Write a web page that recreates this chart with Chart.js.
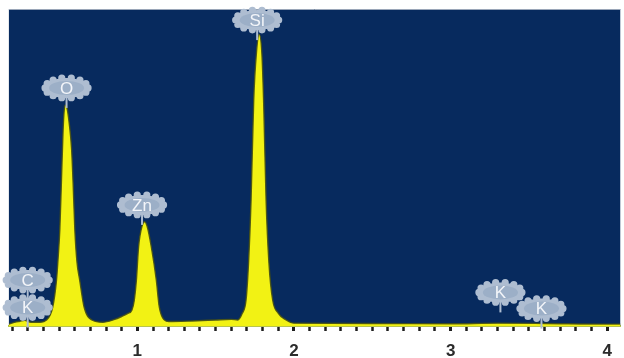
<!DOCTYPE html>
<html>
<head>
<meta charset="utf-8">
<script src="https://cdn.jsdelivr.net/npm/chart.js@4"></script>
<style>
  html, body { margin: 0; padding: 0; background: #fff; }
  #wrap { width: 624px; height: 358px; }
</style>
</head>
<body>
<div id="wrap"><canvas id="spectrum" width="624" height="358"></canvas></div>
<script>
// energy (keV) and counts (% of full scale)
const energies = [
  0.18, 0.22, 0.25, 0.28, 0.32, 0.38, 0.42, 0.46, 0.484, 0.495, 0.505, 0.515, 0.526, 0.533, 0.54,
  0.55, 0.565, 0.58, 0.59, 0.601, 0.615, 0.632, 0.66, 0.71, 0.78, 0.85, 0.90, 0.94, 0.965, 0.98,
  0.994, 1.008, 1.03, 1.047, 1.065, 1.089, 1.121, 1.14, 1.17, 1.2, 1.35, 1.5, 1.6, 1.64, 1.67,
  1.694, 1.71, 1.726, 1.743, 1.76, 1.778, 1.795, 1.806, 1.822, 1.84, 1.864, 1.90, 1.95, 2.0, 2.5,
  3.0, 3.3, 3.6, 4.0, 4.09
];
const counts = [
  0.6, 1.2, 1.5, 1.8, 1.2, 1.2, 1.9, 6, 14.5, 22, 30.3, 45, 61.8, 68, 69.7,
  69, 64, 56, 45, 30.3, 20, 14.5, 6, 1.9, 1.2, 2, 3, 4, 5, 8,
  14.5, 25, 31.5, 32.9, 31, 25, 14.5, 6, 2, 1.4, 1.6, 1.9, 2.1, 1.9, 4,
  8.2, 20, 39.7, 71.3, 86, 92, 86, 71.3, 39.7, 20, 8.2, 4, 1.9, 0.9, 0.8,
  0.7, 0.9, 0.8, 0.6, 0.6
];
const tickValues = [1, 2, 3, 4];

// element markers: label, energy of the badge centre, height of the badge centre
const markerLabels = ['C', 'K', 'O', 'Zn', 'Si', 'K', 'K'];
const markerEnergy = [0.30, 0.30, 0.548, 1.03, 1.765, 3.318, 3.58];
const markerLevel  = [14.5, 5.8, 75.1, 38.2, 96.5, 10.6, 5.5];

const plotBackground = {
  id: 'plotBackground',
  beforeDatasetsDraw(chart) {
    const { ctx, chartArea: a } = chart;
    ctx.save();
    ctx.fillStyle = '#072a5e';
    ctx.fillRect(a.left, a.top, a.right - a.left, a.bottom - a.top);
    ctx.strokeStyle = '#9aa6b8';
    ctx.lineWidth = 1;
    ctx.beginPath();
    ctx.moveTo(a.left, a.top + 0.5);
    ctx.lineTo(a.right, a.top + 0.5);
    ctx.stroke();
    ctx.restore();
  }
};

function drawBadge(ctx, cx, cy, text) {
  const rx = 21.5, ry = 10, n = 14, br = 3.6;
  ctx.beginPath();
  ctx.ellipse(cx, cy, rx, ry, 0, 0, Math.PI * 2);
  for (let i = 0; i < n; i++) {
    const a = i / n * Math.PI * 2;
    const px = cx + rx * Math.cos(a);
    const py = cy + ry * Math.sin(a);
    ctx.moveTo(px + br, py);
    ctx.arc(px, py, br, 0, Math.PI * 2);
  }
  ctx.fillStyle = '#aebdd1';
  ctx.fill();
  ctx.beginPath();
  ctx.ellipse(cx, cy, rx - 4, ry - 3, 0, 0, Math.PI * 2);
  ctx.fillStyle = '#9cafc7';
  ctx.fill();
  ctx.fillStyle = '#f3f5f9';
  ctx.font = '17px "Liberation Sans", Arial, sans-serif';
  ctx.textAlign = 'center';
  ctx.textBaseline = 'middle';
  ctx.fillText(text, cx, cy + 1);
}

const elementBadges = {
  id: 'elementBadges',
  afterDatasetsDraw(chart) {
    const { ctx } = chart;
    const xs = chart.scales.x, ys = chart.scales.y;
    ctx.save();
    markerLabels.forEach((label, i) => {
      const cx = xs.getPixelForValue(markerEnergy[i]);
      const cy = ys.getPixelForValue(markerLevel[i]);
      ctx.strokeStyle = '#aebdd1';
      ctx.lineWidth = 2;
      ctx.beginPath();
      ctx.moveTo(cx, cy + 9);
      ctx.lineTo(cx, cy + 20);
      ctx.stroke();
      drawBadge(ctx, cx, cy, label);
    });
    ctx.restore();
  }
};

const isWhole = v => Math.abs(v - Math.round(v)) < 1e-6;

new Chart(document.getElementById('spectrum').getContext('2d'), {
  type: 'line',
  data: {
    datasets: [{
      data: energies.map((e, i) => ({ x: e, y: counts[i] })),
      fill: 'origin',
      backgroundColor: '#f2f214',
      borderColor: 'rgba(70, 80, 20, 0.9)',
      borderWidth: 1.4,
      pointRadius: 0,
      cubicInterpolationMode: 'monotone'
    }]
  },
  options: {
    responsive: false,
    animation: false,
    layout: { padding: { left: 7, top: 9, right: 3, bottom: 0 } },
    plugins: { legend: { display: false }, tooltip: { enabled: false } },
    scales: {
      x: {
        type: 'linear',
        min: 0.18,
        max: 4.083,
        afterFit: scale => { scale.height = 32; },
        border: { display: true, color: '#b9c44c', width: 2 },
        grid: {
          drawOnChartArea: false,
          drawTicks: true,
          tickLength: 5,
          tickColor: '#1e1e1e',
          tickWidth: ctx => isWhole(ctx.tick.value) ? 3 : 2.5
        },
        ticks: {
          stepSize: 0.1,
          includeBounds: false,
          autoSkip: false,
          maxRotation: 0,
          padding: 12,
          color: '#2b2b2b',
          font: { family: '"Liberation Sans", Arial, sans-serif', size: 17, weight: 'bold', lineHeight: 1 },
          callback: v => (isWhole(v) && tickValues.includes(Math.round(v))) ? String(Math.round(v)) : ''
        }
      },
      y: { display: false, min: 0, max: 100 }
    }
  },
  plugins: [plotBackground, elementBadges]
});
</script>
</body>
</html>
